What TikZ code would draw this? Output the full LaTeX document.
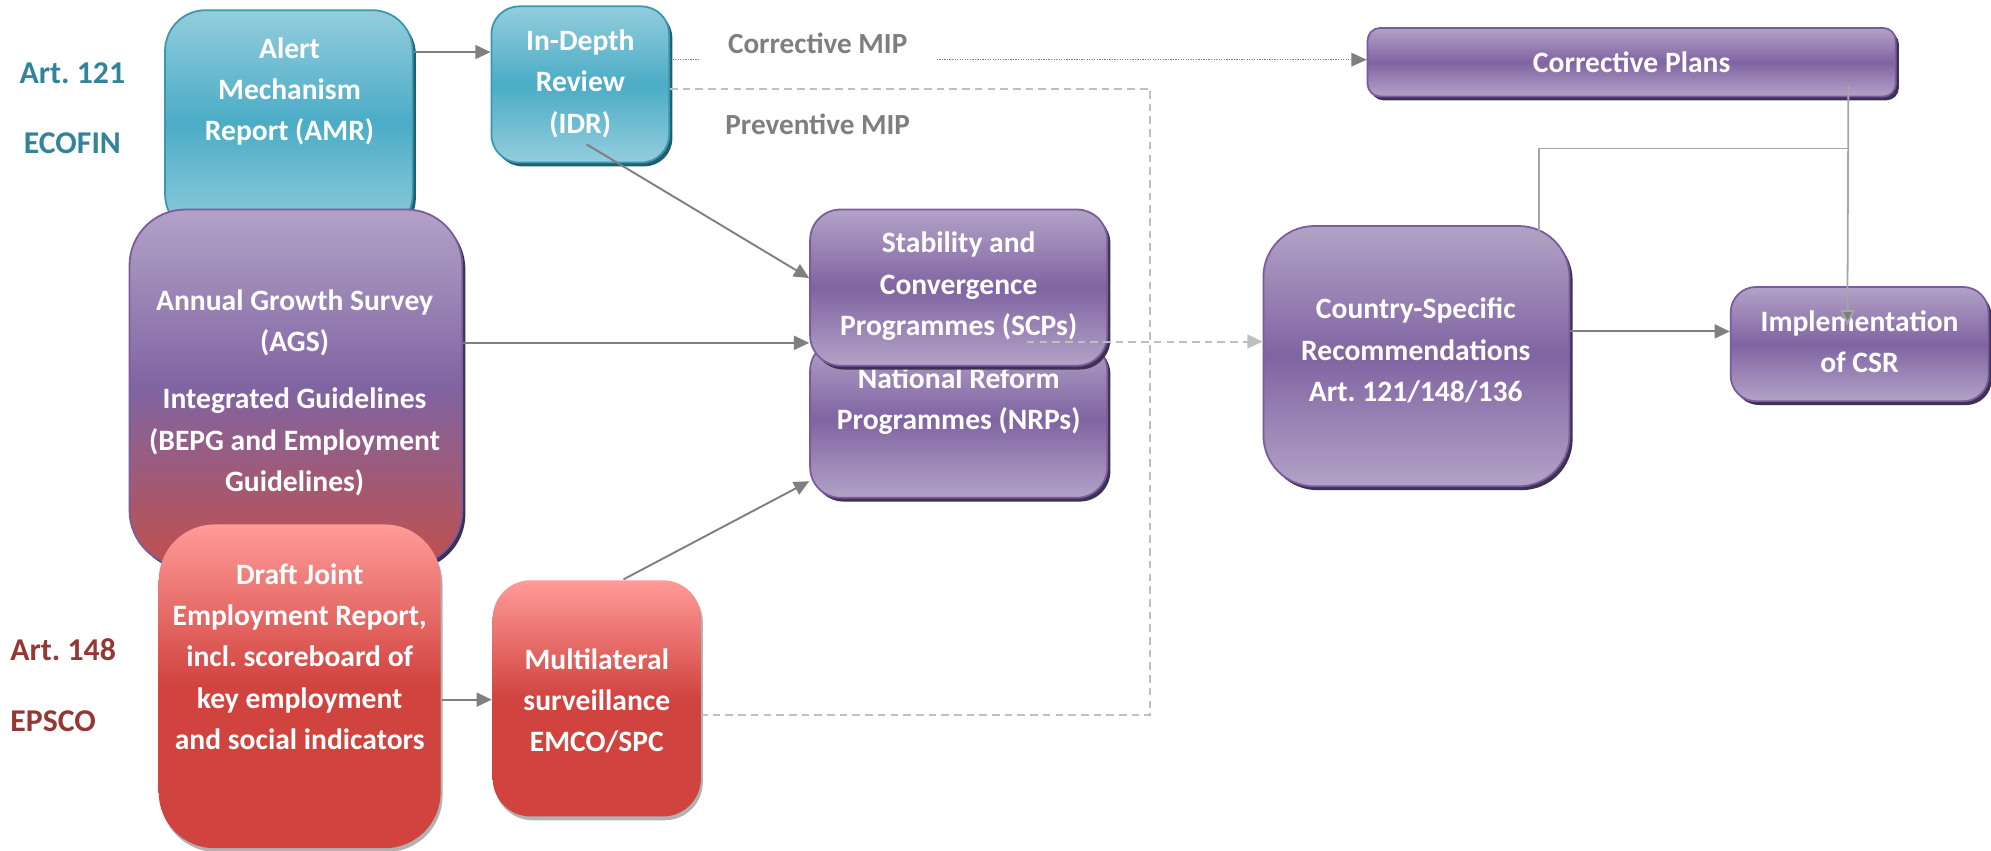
\documentclass[tikz,border=0pt]{standalone}
\usepackage{fontspec}
\setmainfont{Carlito}
\usetikzlibrary{arrows.meta,shadows,calc}
\frenchspacing
\definecolor{tealL}{HTML}{93CDDD}
\definecolor{tealD}{HTML}{4BACC6}
\definecolor{tealB}{HTML}{3A97B0}
\definecolor{tealS}{HTML}{215E6E}
\definecolor{purL}{HTML}{B3A2C7}
\definecolor{purD}{HTML}{8064A2}
\definecolor{purB}{HTML}{7A5C9E}
\definecolor{purS}{HTML}{3F3151}
\definecolor{redL}{HTML}{FF9B98}
\definecolor{redD}{HTML}{D1433F}
\definecolor{agsR}{HTML}{C0504D}
\definecolor{artT}{HTML}{31849B}
\definecolor{artR}{HTML}{953735}
\definecolor{lineG}{HTML}{7F7F7F}
\definecolor{lineL}{HTML}{A6A6A6}
\definecolor{dashG}{HTML}{BFBFBF}
\tikzset{
  basebox/.style={rectangle, inner sep=0pt, line width=1.4pt},
  tealbox/.style={basebox, draw=tealB, top color=tealL, bottom color=tealL, middle color=tealD,
    drop shadow={shadow xshift=2.5pt, shadow yshift=-3pt, fill=tealS, opacity=1}},
  purbox/.style={basebox, draw=purB, top color=purL, bottom color=purL, middle color=purD,
    drop shadow={shadow xshift=2.5pt, shadow yshift=-3pt, fill=purS, opacity=1}},
  agsbox/.style={basebox, draw=purB, top color=purL, bottom color=agsR, middle color=purD,
    drop shadow={shadow xshift=2.5pt, shadow yshift=-3pt, fill=purS, opacity=1}},
  redbox/.style={basebox, draw=none, top color=redL, bottom color=redD, middle color=redD,
    drop shadow={shadow xshift=1.5pt, shadow yshift=-3pt, fill=gray!60, opacity=1}},
  wtxt/.style={text=white, font=\bfseries\fontsize{23.3}{32.5}\selectfont, align=center, inner sep=0pt},
  side/.style={font=\bfseries\fontsize{25}{30}\selectfont, inner sep=0pt},
  mip/.style={text=lineG, font=\bfseries\fontsize{23}{28}\selectfont, inner sep=0pt},
  conn/.style={draw=lineG, line width=1.5pt, -{Triangle[length=12pt,width=11pt]}},
  thinconn/.style={draw=lineL, line width=1.4pt},
  dashconn/.style={draw=dashG, line width=1.5pt, dash pattern=on 6pt off 4pt},
  dotconn/.style={draw=lineG, line width=1.2pt, dash pattern=on 1pt off 1pt}
}
\begin{document}
\begin{tikzpicture}[x=1pt,y=-1pt]
\fill[white] (0,0) rectangle (1568,670);
\useasboundingbox (0,0) rectangle (1568,670);

% side labels
\node[side, text=artT] (art121) at (57,58) {Art. 121};
\node[side, text=artT] (ecofin) at (57,113) {ECOFIN};
\node[side, text=artR, anchor=west] (art148) at (8,512) {Art. 148};
\node[side, text=artR, anchor=west] (epsco) at (8,568) {EPSCO};

% teal boxes
\node[tealbox, rounded corners=32pt, minimum width=195pt, minimum height=177pt] (amr) at (227.5,96.5) {};
\node[wtxt] (amrtxt) at (228,72) {Alert\\Mechanism\\Report (AMR)};
\node[tealbox, rounded corners=22pt, minimum width=140pt, minimum height=123pt] (idr) at (457,66.5) {};
\node[wtxt] (idrtxt) at (457,66) {In-Depth\\Review\\(IDR)};

% AGS
\node[agsbox, rounded corners=44pt, minimum width=262pt, minimum height=281pt] (ags) at (233,305.5) {};
\node[wtxt] (agstxt1) at (232,254.5) {Annual Growth Survey\\(AGS)};
\node[wtxt] (agstxt2) at (232,348) {Integrated Guidelines\\(BEPG and Employment\\Guidelines)};

% red boxes
\node[redbox, rounded corners=44pt, minimum width=222pt, minimum height=255pt] (djer) at (236,540.5) {};
\node[wtxt] (djertxt) at (236,517) {Draft Joint\\Employment Report,\\incl. scoreboard of\\key employment\\and social indicators};
\node[redbox, rounded corners=30pt, minimum width=164pt, minimum height=186pt] (ms) at (470,550) {};
\node[wtxt] (mstxt) at (470,552) {Multilateral\\surveillance\\EMCO/SPC};

% programmes
\node[purbox, rounded corners=24pt, minimum width=234pt, minimum height=124pt] (nrp) at (755,330) {};
\node[wtxt] (nrptxt) at (755,316) {National Reform\\Programmes (NRPs)};
\node[purbox, rounded corners=24pt, minimum width=234pt, minimum height=123pt] (scp) at (755,226.5) {};
\node[wtxt] (scptxt) at (755,225.5) {Stability and\\Convergence\\Programmes (SCPs)};

% right side
\node[purbox, rounded corners=10pt, minimum width=416pt, minimum height=54pt] (cp) at (1285,49) {};
\node[wtxt] (cptxt) at (1285,49) {Corrective Plans};
\node[purbox, rounded corners=40pt, minimum width=241pt, minimum height=205pt] (csr) at (1115.5,280.5) {};
\node[wtxt] (csrtxt) at (1115,276) {Country-Specific\\Recommendations\\Art. 121/148/136};
\node[purbox, rounded corners=20pt, minimum width=203pt, minimum height=90pt] (impl) at (1464.5,271) {};
\node[wtxt] (impltxt) at (1464.5,269) {Implementation\\of CSR};

% connectors
\draw[conn] (amr.east |- 0,41) -- (idr.west |- 0,41);
\draw[conn] ($(idr.south)+(5,-15)$) -- (scp.west |- 0,219);
\draw[conn] (ags.east |- 0,270) -- (scp.west |- 0,270);
\draw[conn] ($(ms.north)+(21,0)$) -- (nrp.west |- 0,379);
\draw[conn] (djer.east |- 0,551) -- (ms.west |- 0,551);

\coordinate (dtop) at (906,70);
\coordinate (dbot) at (906,563);
\draw[dashconn] (idr.east |- dtop) -- (dtop) -- (dbot) -- (ms.east |- dbot);
\draw[dashconn, -{Triangle[length=12pt,width=11pt,fill=dashG]}] ($(scp.east)+(-64,42.5)$) -- (csr.west |- 0,269);

\draw[dotconn] (idr.east |- 0,47) -- (cp.west |- 0,47);
\fill[lineG] (cp.west |- 0,47) -- ++(-12,-5.5) -- ++(0,11) -- cycle;

\coordinate (jn) at (1455,117);
\coordinate (cs) at ($(csr.north)+(96.5,16)$);
\draw[thinconn] (cs) -- (cs |- jn) -- (jn);
\draw[draw=lineL, line width=1.4pt, -{Triangle[length=12pt,width=11pt,fill=lineG]}] ($(cp.south east)+(-38,-9)$) -- (impl.north -| jn) -- ++(0,31);
\draw[conn] (csr.east |- 0,261) -- (impl.west |- 0,261);

\node[mip, fill=white, inner xsep=22pt, inner ysep=15pt] (cmip) at (644,34) {Corrective MIP};
\node[mip] (pmip) at (644,98) {Preventive MIP};
\end{tikzpicture}
\end{document}
